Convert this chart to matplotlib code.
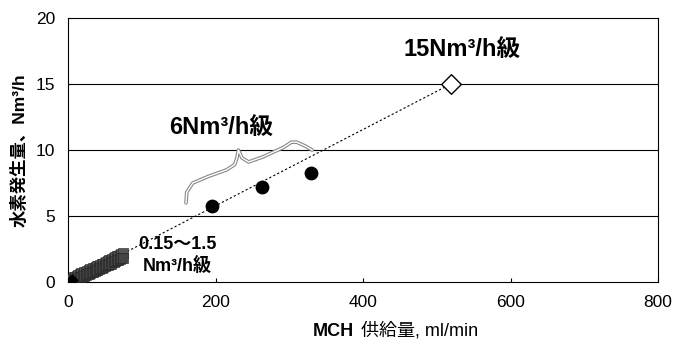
import numpy as np
import matplotlib.pyplot as plt

plt.rcParams['font.family'] = ['Liberation Sans', 'Noto Sans CJK JP', 'DejaVu Sans']

# small units (0.15~1.5 Nm3/h class)
smallX = [4, 6, 8, 10, 12, 14, 16, 18, 20, 22, 24, 26, 28, 30, 32, 34, 36, 38, 40,
          42, 44, 46, 48, 50, 52, 54, 56, 58, 60, 62, 64, 66, 68, 70, 72, 74]
smallY = [0.15, 0.25, 0.35, 0.40, 0.50, 0.55, 0.60, 0.70, 0.65, 0.75, 0.80, 0.85, 0.90, 1.00, 0.95,
          1.05, 1.10, 1.15, 1.20, 1.25, 1.30, 1.35, 1.40, 1.45, 1.50, 1.60, 1.65, 1.70, 1.75, 1.80,
          1.90, 1.95, 2.00, 2.05, 2.10, 2.20]
smallY2 = [0.05, 0.10, 0.15, 0.25, 0.20, 0.30, 0.35, 0.40, 0.50, 0.45, 0.55, 0.60, 0.65, 0.70, 0.80,
           0.80, 0.85, 0.90, 0.95, 1.00, 1.05, 1.10, 1.15, 1.20, 1.30, 1.30, 1.35, 1.40, 1.50, 1.50,
           1.60, 1.65, 1.70, 1.75, 1.80, 1.85]

# 6Nm3/h class
midX = [195, 263, 329]
midY = [5.8, 7.2, 8.25]

# 15Nm3/h class
bigX = [519]
bigY = [15.0]

# brace outline around 6Nm3/h class
braceX = [160, 161, 169, 190, 215, 226, 229, 231, 236, 245, 265, 292, 303, 310, 322, 331]
braceY = [6.0, 6.8, 7.5, 8.0, 8.5, 8.9, 9.4, 10.0, 9.4, 9.1, 9.5, 10.2, 10.6, 10.6, 10.3, 10.0]

fig = plt.figure(figsize=(6.75, 3.47), dpi=100)
ax = fig.add_axes([0.1007, 0.187, 0.8743, 0.761])

ax.set_xlim(0, 800)
ax.set_ylim(0, 20)
ax.set_xticks([0, 200, 400, 600, 800])
ax.set_yticks([0, 5, 10, 15, 20])
for y in [5, 10, 15]:
    ax.axhline(y, color='black', lw=0.8, zorder=1)

ax.plot([0, bigX[0]], [0, bigY[0]], color='black', lw=0.8, ls=(0, (2, 2)), zorder=2)

ax.plot(braceX, braceY, color='#888888', lw=2.6, zorder=2, solid_capstyle='round')
ax.plot(braceX, braceY, color='white', lw=1.0, zorder=2)

ax.scatter(smallX, smallY, marker='s', s=45, c='#555555', edgecolors='#222222', linewidths=0.4, zorder=3)
ax.scatter(smallX, smallY2, marker='s', s=45, c='#444444', edgecolors='#222222', linewidths=0.4, zorder=3)
ax.scatter([6], [0.15], marker='D', s=30, c='black', zorder=4)
ax.scatter(midX, midY, marker='o', s=80, c='black', zorder=4)
ax.scatter(bigX, bigY, marker='D', s=100, facecolors='white', edgecolors='black', linewidths=1.0, zorder=4)

ax.text(534, 17.6, '15Nm³/h級', fontsize=17, fontweight='bold', ha='center', va='center')
ax.text(208, 11.7, '6Nm³/h級', fontsize=17, fontweight='bold', ha='center', va='center')
ax.text(148, 2.0, '0.15〜1.5\nNm³/h級', fontsize=13, fontweight='bold', ha='center', va='center',
        linespacing=1.3)

for s in ax.spines.values():
    s.set_linewidth(0.8)
ax.tick_params(axis='both', direction='in', labelsize=12.5, length=3, pad=9)
ax.tick_params(axis='y', length=0)

fig.text(313 / 675, 1 - 331 / 347, 'MCH', fontsize=13, fontweight='bold', ha='left', va='center')
fig.text(361 / 675, 1 - 331 / 347, '供給量, ml/min', fontsize=13, ha='left', va='center')
ax.set_ylabel('水素発生量、Nm³/h', fontsize=12.5, fontweight='bold', labelpad=6)

fig.savefig('out.png', dpi=100)
